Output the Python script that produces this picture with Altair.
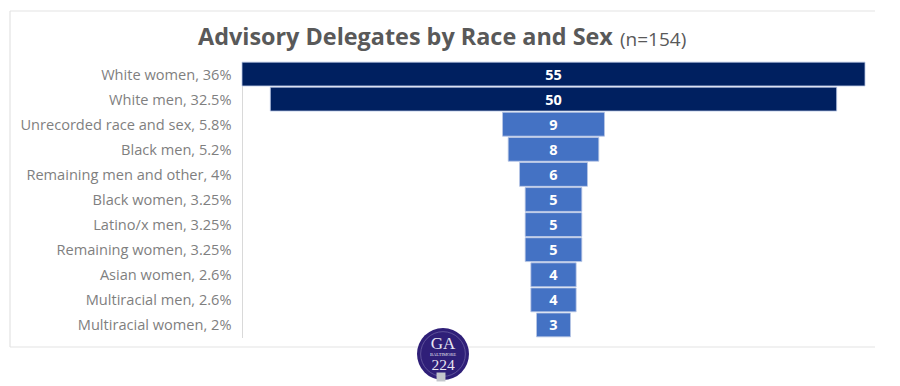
import altair as alt
import pandas as pd

labels = ["White women, 36%", "White men, 32.5%", "Unrecorded race and sex, 5.8%", "Black men, 5.2%",
          "Remaining men and other, 4%", "Black women, 3.25%", "Latino/x men, 3.25%", "Remaining women, 3.25%",
          "Asian women, 2.6%", "Multiracial men, 2.6%", "Multiracial women, 2%"]
counts = [55, 50, 9, 8, 6, 5, 5, 5, 4, 4, 3]
groups = ["top", "top"] + ["rest"] * 9
title_main = "Advisory Delegates by Race and Sex"
title_n = "(n=154)"

df = pd.DataFrame({"label": labels, "count": counts, "group": groups})
df["left"] = -df["count"] / 2
df["right"] = df["count"] / 2
df["mid"] = 0

W, H = 623, 276
PL, PT = 234, 53.5
FONT = "Open Sans"
one = pd.DataFrame({"a": [0]})

xs = alt.Scale(domain=[-27.5, 27.5], nice=False, zero=False)
ys = alt.Y("label:N", sort=labels, title=None,
           scale=alt.Scale(paddingInner=0.05, paddingOuter=0.025),
           axis=alt.Axis(ticks=False, labelFont=FONT, labelFontSize=14.6, labelColor="#7f7f7f",
                         labelPadding=11, labelOffset=1.5, domainColor="#d9d9d9", domainWidth=1, labelLimit=300))

bars = alt.Chart(df).mark_bar(stroke="#b9c7e4", strokeWidth=0.8).encode(
    x=alt.X("left:Q", scale=xs, axis=None),
    x2="right:Q",
    y=ys,
    color=alt.Color("group:N", scale=alt.Scale(domain=["top", "rest"], range=["#002060", "#4472c4"]), legend=None),
)
values = alt.Chart(df).mark_text(color="white", font=FONT, fontWeight="bold", fontSize=14.5, dy=1.5).encode(
    x=alt.X("mid:Q", scale=xs, axis=None),
    y=alt.Y("label:N", sort=labels, title=None),
    text="count:Q",
)

def frame(x, x2, y):
    return alt.Chart(one).mark_rule(color="#e3e3e3", strokeWidth=1.2).encode(
        x=alt.value(x), x2=alt.value(x2), y=alt.value(y))

top_line = frame(-232, 633, -50.5)
bottom_line = frame(-232, 633, 285.5)
left_line = alt.Chart(one).mark_rule(color="#e3e3e3", strokeWidth=1.2).encode(
    x=alt.value(-232), y=alt.value(-50.5), y2=alt.value(285.5))

t1 = alt.Chart(pd.DataFrame({"t": [title_main]})).mark_text(
    font=FONT, fontWeight="bold", fontSize=23.4, color="#595959", align="left", baseline="middle"
).encode(x=alt.value(-44), y=alt.value(-23.5), text="t:N")
t2 = alt.Chart(pd.DataFrame({"t": [title_n]})).mark_text(
    font=FONT, fontSize=19, color="#595959", align="left", baseline="middle"
).encode(x=alt.value(378), y=alt.value(-22), text="t:N")

LX, LY = 201, 292.5
disc = alt.Chart(one).mark_point(filled=True, opacity=1, color="#2f1f78", size=2704, shape="circle").encode(
    x=alt.value(LX), y=alt.value(LY))
ring = alt.Chart(one).mark_point(filled=False, opacity=0.55, color="#a9a4cf", strokeWidth=0.7, size=2000, shape="circle").encode(
    x=alt.value(LX), y=alt.value(LY))
shield = alt.Chart(one).mark_point(filled=True, opacity=1, color="#c3c6cc", size=80, shape="square").encode(
    x=alt.value(LX - 2), y=alt.value(LY + 23))

def logo_text(s, dy, size):
    return alt.Chart(pd.DataFrame({"t": [s]})).mark_text(
        font="Liberation Serif", fontSize=size, color="#e8e6f2", align="center", baseline="middle"
    ).encode(x=alt.value(LX), y=alt.value(LY + dy), text="t:N")

chart = alt.layer(
    top_line, bottom_line, left_line, bars, values, t1, t2,
    disc, ring, shield,
    logo_text("GA", -10, 17), logo_text("BALTIMORE", 0.8, 4.5), logo_text("224", 11, 15.5),
).resolve_scale(y="shared").properties(
    width=W, height=H, background="white",
    autosize=alt.AutoSizeParams(type="none"),
    padding={"left": PL, "top": PT, "right": 27, "bottom": 48},
).configure_view(stroke=None)

chart.save("out.html", embed_options={"renderer": "svg", "actions": False})
